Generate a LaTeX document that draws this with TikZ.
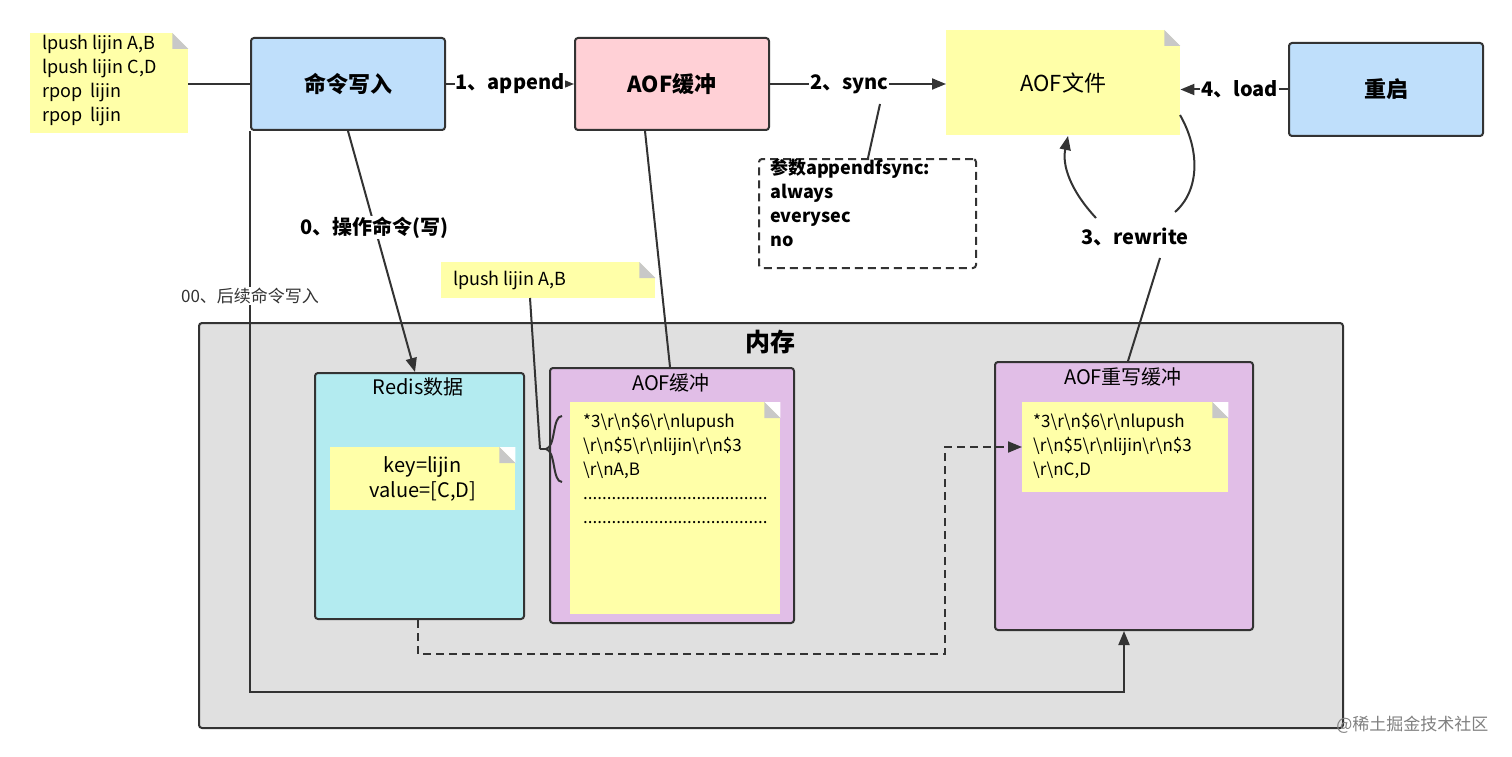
\documentclass[tikz,border=0pt]{standalone}
\usepackage{fontspec}
\setmainfont{Noto Sans CJK SC}
\usetikzlibrary{arrows.meta,calc}
\definecolor{ny}{HTML}{FFFFA8}
\definecolor{bl}{HTML}{BFDFFB}
\definecolor{pk}{HTML}{FFD0D6}
\definecolor{cy}{HTML}{B3EBF0}
\definecolor{pu}{HTML}{E1BEE7}
\definecolor{mg}{HTML}{E0E0E0}
\definecolor{fg}{HTML}{C8C8C8}
\definecolor{ln}{HTML}{333333}
\tikzset{
 box/.style={draw=ln,line width=2pt,rounded corners=3pt,anchor=north west,inner sep=0pt,font=\fontsize{22}{24}\selectfont\bfseries},
 note/.style={fill=ny,anchor=north west,inner sep=0pt},
 txt/.style={anchor=north west,inner sep=0pt,align=left},
 lbl/.style={fill=white,inner sep=1pt,font=\fontsize{20}{22}\selectfont\bfseries},
 con/.style={draw=ln,line width=2pt},
 arr/.style={con,-{Triangle[length=14pt,width=11pt]}},
}
\newcommand\fold[1]{%
 \fill[white] (#1.north east) -- ++(-16,0) -- ++(16,16) -- cycle;
 \fill[fg] ($(#1.north east)+(-16,0)$) -- ++(0,16) -- ++(16,0) -- cycle;}
\begin{document}
\begin{tikzpicture}[x=1pt,y=-1pt]
\useasboundingbox[fill=white] (0,0) rectangle (1512,757);
% memory
\node[draw=ln,fill=mg,line width=2pt,rounded corners=3pt,anchor=north west,minimum width=1144pt,minimum height=405pt] (mem) at (198,322) {};
\node[font=\fontsize{25}{26}\selectfont\bfseries] (memt) at (770,342) {内存};
% top row
\node[note,minimum width=158pt,minimum height=100pt] (n1) at (30,33) {};
\fold{n1}
\node[txt,font=\fontsize{18}{24}\selectfont] (n1t) at (42,35) {lpush lijin A,B\\lpush lijin C,D\\rpop\ \ lijin\\rpop\ \ lijin};
\node[box,fill=bl,minimum width=194pt,minimum height=92pt] (cmd) at (250,37) {命令写入};
\node[box,fill=pk,minimum width=194pt,minimum height=92pt] (buf) at (574,37) {AOF缓冲};
\node[note,minimum width=234pt,minimum height=105pt,font=\fontsize{22}{24}\selectfont] (file) at (946,30) {AOF文件};
\fold{file}
\node[box,fill=bl,minimum width=194pt,minimum height=93pt] (rst) at (1288,42) {重启};
\draw[con] (n1.east|-cmd.west) -- (cmd.west);
\draw[arr] (cmd.east) -- node[lbl] (l1) {1、append} (buf.west);
\draw[arr] (buf.east) -- node[lbl,pos=0.45] (l2) {2、sync} (file.west|-buf.east);
\draw[arr] (rst.west) -- node[lbl,pos=0.45] (l4) {4、load} (file.east|-rst.west);
% appendfsync
\node[draw=ln,line width=2pt,dash pattern=on 8pt off 5pt,rounded corners=3pt,anchor=north west,minimum width=217pt,minimum height=109pt] (ps) at (758,158) {};
\node[txt,font=\fontsize{18}{24}\selectfont\bfseries] (pst) at (770,159) {参数appendfsync:\\always\\everysec\\no};
\draw[con] (ps.north-|868,0) -- (880,104);
% rewrite
\node[lbl] (l3) at (1135,237) {3、rewrite};
\coordinate (r1) at (1180,115);
\coordinate (r2) at (1175,212);
\coordinate (r3) at (1096,218);
\draw[con] (r1) .. controls (1200,150) and (1200,190) .. (r2);
\draw[arr] (r3) .. controls (1070,190) and (1062,165) .. (1068,136);
% memory contents
\node[box,fill=cy,minimum width=209pt,minimum height=246pt] (rd) at (314,372) {};
\node[font=\fontsize{20}{22}\selectfont] (rdt) at (418,387) {Redis数据};
\node[note,minimum width=185pt,minimum height=63pt,align=center,font=\fontsize{20}{25}\selectfont] (kv) at (330,447) {key=lijin\\value=[C,D]};
\fold{kv}
\node[box,fill=pu,minimum width=244pt,minimum height=255pt] (mb) at (549,367) {};
\node[font=\fontsize{20}{22}\selectfont] (mbt) at (671,383) {AOF缓冲};
\node[note,minimum width=210pt,minimum height=212pt] (mbn) at (570,402) {};
\fold{mbn}
\node[txt,font=\fontsize{17}{24}\selectfont] (mbnt) at (583,413) {*3\textbackslash r\textbackslash n\$6\textbackslash r\textbackslash nlupush\\\textbackslash r\textbackslash n\$5\textbackslash r\textbackslash nlijin\textbackslash r\textbackslash n\$3\\\textbackslash r\textbackslash nA,B\\.......................................\\.......................................};
\node[box,fill=pu,minimum width=258pt,minimum height=268pt] (rb) at (994,361) {};
\node[font=\fontsize{20}{22}\selectfont] (rbt) at (1123,377) {AOF重写缓冲};
\node[note,minimum width=206pt,minimum height=90pt] (rbn) at (1022,402) {};
\fold{rbn}
\node[txt,font=\fontsize{17}{24}\selectfont] (rbnt) at (1033,413) {*3\textbackslash r\textbackslash n\$6\textbackslash r\textbackslash nlupush\\\textbackslash r\textbackslash n\$5\textbackslash r\textbackslash nlijin\textbackslash r\textbackslash n\$3\\\textbackslash r\textbackslash nC,D};
\draw[con] (1160,258) -- (rb.north-|1128,0);
% lpush note with brace
\node[note,minimum width=214pt,minimum height=36pt] (n2) at (441,262) {};
\fold{n2}
\node[anchor=west,inner sep=0pt,font=\fontsize{18}{20}\selectfont] (n2t) at (453,281) {lpush lijin A,B};
\coordinate (b0) at (540,449);
\draw[con] (530,298) -- (b0);
\draw[con] (562,416) .. controls (552,416) and (556,447) .. (546,449) .. controls (556,451) and (552,482) .. (562,482);
\draw[con] (b0) -- (546,449);
% connectors
\draw[con] (buf.south-|645,0) -- (mb.north-|670,0);
\draw[arr] (cmd.south-|348,0) -- node[lbl,pos=0.4] (l0) {0、操作命令(写)} (rd.north-|415,0);
\draw[arr] (cmd.south west) -- (250,692) -- (1124,692) -- (rb.south-|1124,0);
\node[fill=white,inner sep=1pt,text=ln,font=\fontsize{17}{20}\selectfont] (l00) at (250,296) {00、后续命令写入};
\draw[arr,dash pattern=on 8pt off 5pt] (rd.south-|418,0) -- (418,654) -- (945,654) -- (945,447) -- (rbn.west|-945,447);
\node[text=gray,font=\fontsize{17}{20}\selectfont,anchor=east] (wm) at (1492,725) {@稀土掘金技术社区};
\end{tikzpicture}
\end{document}
